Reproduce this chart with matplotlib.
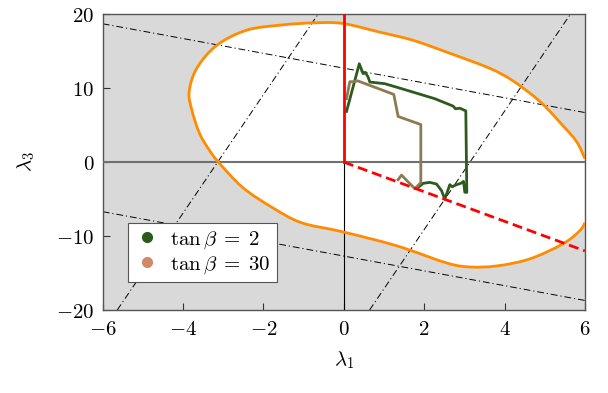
import matplotlib
matplotlib.use("Agg")
import matplotlib.pyplot as plt
from matplotlib.lines import Line2D
from matplotlib.path import Path
from matplotlib.patches import PathPatch
from matplotlib.ticker import FuncFormatter

plt.rcParams['mathtext.fontset'] = 'cm'
plt.rcParams['font.family'] = 'serif'
plt.rcParams['font.serif'] = ['DejaVu Serif']

# allowed-region boundary (orange)
bound_x = [6.00, 5.80, 5.45, 4.88, 4.21, 3.63, 2.64, 1.72, 0.90, -0.03, -0.77, -1.59,
           -2.42, -3.16, -3.66, -3.85, -3.78, -3.59, -3.34, -3.11, -2.51, -1.77, -1.05,
           -0.03, 1.32, 2.56, 3.14, 3.81, 4.63, 5.45, 5.87, 6.00]
bound_y = [0.47, 2.71, 4.95, 8.20, 10.98, 12.68, 14.71, 16.47, 17.56, 18.74, 18.82, 18.51,
           17.83, 15.80, 12.68, 9.49, 6.98, 3.86, 1.56, -0.07, -3.46, -6.17, -8.20,
           -9.42, -11.32, -13.63, -14.17, -14.03, -13.08, -11.05, -9.29, -8.20]

# tan beta = 2 scan
tb2_x = [0.067, 0.385, 0.480, 0.540, 0.604, 0.647, 1.020, 1.436, 2.265, 2.720, 2.780,
         2.887, 3.036, 3.061, 3.011, 2.979, 2.912, 2.805, 2.696, 2.638, 2.514, 2.432,
         2.307, 2.140, 1.974, 1.849]
tb2_y = [6.85, 13.29, 11.96, 12.09, 11.50, 10.82, 10.60, 9.93, 8.57, 7.57, 7.21,
         7.29, 6.92, -4.09, -4.07, -2.60, -2.87, -3.05, -3.32, -3.05, -4.99, -3.86,
         -2.96, -2.74, -2.87, -3.42]

# tan beta = 30 scan
tb30_x = [0.067, 0.149, 0.231, 0.348, 1.244, 1.351, 1.916, 1.916, 1.767, 1.436, 1.351]
tb30_y = [8.57, 10.87, 10.87, 10.98, 9.15, 6.17, 5.08, -2.78, -3.59, -1.76, -2.37]

# dash-dot guide lines (endpoints)
guides = [
    ([-6, 6], [18.7, 6.7]),
    ([-6, 6], [-6.7, -18.7]),
    ([-5.64, -0.64], [-20, 20]),
    ([0.64, 5.64], [-20, 20]),
]

# red bounds
red_vx = [0, 0]
red_vy = [0, 20]
red_dx = [0, 6]
red_dy = [0, -12]


def smooth_path(xs, ys, close=False):
    # Catmull-Rom through the read points, drawn as cubic Bezier segments
    pts = list(zip(xs, ys))
    n = len(pts)
    verts = [pts[0]]
    codes = [Path.MOVETO]
    for i in range(n - 1):
        p0 = pts[max(i - 1, 0)]
        p1 = pts[i]
        p2 = pts[i + 1]
        p3 = pts[min(i + 2, n - 1)]
        c1 = (p1[0] + (p2[0] - p0[0]) / 6, p1[1] + (p2[1] - p0[1]) / 6)
        c2 = (p2[0] - (p3[0] - p1[0]) / 6, p2[1] - (p3[1] - p1[1]) / 6)
        verts += [c1, c2, p2]
        codes += [Path.CURVE4] * 3
    if close:
        verts.append(pts[0])
        codes.append(Path.CLOSEPOLY)
    return Path(verts, codes)


fig = plt.figure(figsize=(6.08, 3.93), dpi=100)
ax = fig.add_axes([0.169, 0.211, 0.793, 0.753])
ax.set_facecolor('#d9d9d9')

ax.add_patch(PathPatch(smooth_path(bound_x, bound_y, close=True),
                       facecolor='white', edgecolor='none', zorder=1))
for gx, gy in guides:
    ax.plot(gx, gy, color='black', lw=0.7, dashes=(7, 3, 1.2, 3), zorder=2)

ax.axhline(0, color='#707070', lw=1.5, zorder=3)
ax.plot([0, 0], [-20, 0], color='black', lw=0.8, zorder=3)
ax.add_patch(PathPatch(smooth_path(bound_x, bound_y), facecolor='none',
                       edgecolor='#ff8c00', lw=2, zorder=4))

ax.plot(tb2_x, tb2_y, color='#2e5a1e', lw=2, zorder=5)
ax.plot(tb30_x, tb30_y, color='#8c7a52', lw=2, zorder=5)

ax.plot(red_vx, red_vy, color='#ff0000', lw=2, zorder=6)
ax.plot(red_dx, red_dy, color='#ff0000', lw=2, dashes=(3.6, 1.8), zorder=6)

ax.set_xlim(-6, 6)
ax.set_ylim(-20, 20)
ax.set_xticks([-6, -4, -2, 0, 2, 4, 6])
ax.set_yticks([-20, -10, 0, 10, 20])
fmt = FuncFormatter(lambda v, p: r'$%d$' % v)
ax.xaxis.set_major_formatter(fmt)
ax.yaxis.set_major_formatter(fmt)
ax.tick_params(direction='in', length=5, width=0.8, labelsize=15, color='#333333')
ax.tick_params(axis='x', pad=7)
ax.tick_params(axis='y', pad=6)
for s in ax.spines.values():
    s.set_color('#555555')
    s.set_linewidth(1.0)

ax.set_xlabel(r'$\lambda_1$', fontsize=15, labelpad=8)
ax.set_ylabel(r'$\lambda_3$', fontsize=15, labelpad=14)

handles = [
    Line2D([], [], marker='o', ls='none', color='#2b5a1c', markersize=7),
    Line2D([], [], marker='o', ls='none', color='#d08a68', markersize=7),
]
leg = ax.legend(handles, [r'$\tan\beta\;=\;2$', r'$\tan\beta\;=\;30$'],
                loc='lower left', bbox_to_anchor=(0.0525, 0.0956), borderaxespad=0,
                fontsize=15, fancybox=False, framealpha=1, edgecolor='#555555',
                handletextpad=0.5, handlelength=1.2, borderpad=0.3, labelspacing=0.15)
leg.get_frame().set_linewidth(0.8)
leg.set_zorder(10)

fig.savefig('out.png', dpi=100)
